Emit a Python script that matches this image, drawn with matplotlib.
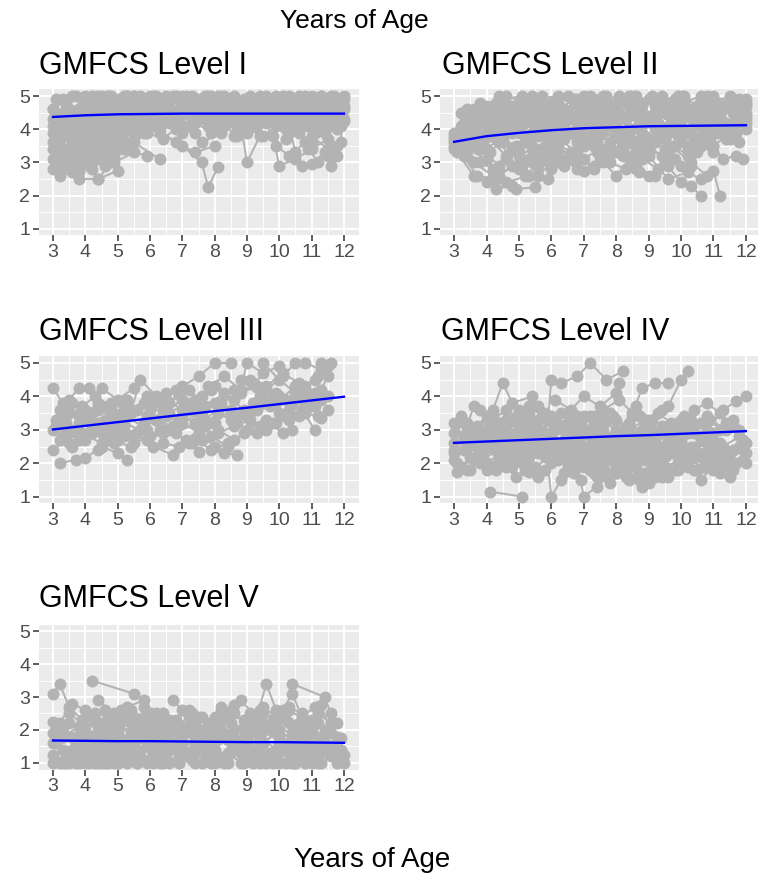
import numpy as np
import matplotlib
matplotlib.use("Agg")
import matplotlib.pyplot as plt

plt.rcParams['font.family'] = ['Liberation Sans', 'DejaVu Sans']

# panel titles
titles = ["GMFCS Level I", "GMFCS Level II", "GMFCS Level III",
          "GMFCS Level IV", "GMFCS Level V"]

# each subject: flat list age, score, age, score, ...
level_I = [
    [3.0, 4.1, 3.5, 4.6, 4.1, 4.9, 4.8, 5.0, 5.5, 5.0],
    [3.0, 3.4, 3.4, 3.9, 4.0, 4.3, 4.6, 4.8, 5.3, 5.0],
    [3.1, 2.8, 3.5, 3.1, 4.0, 3.5, 4.5, 3.9, 5.2, 4.4],
    [3.2, 2.6, 3.6, 2.7, 4.2, 3.0, 4.9, 3.6, 5.6, 4.1],
    [3.3, 3.0, 3.8, 2.5, 4.4, 2.5, 5.0, 2.75],
    [3.0, 4.6, 3.6, 5.0, 4.2, 5.0, 4.9, 4.8, 5.7, 5.0],
    [3.1, 3.7, 3.7, 4.2, 4.3, 4.6, 5.0, 4.5, 5.8, 4.9],
    [3.2, 3.3, 3.9, 3.6, 4.5, 3.2, 5.1, 3.8, 5.9, 4.3],
    [3.4, 4.4, 4.0, 4.8, 4.7, 5.0, 5.4, 4.7, 6.1, 5.0],
    [3.1, 4.9, 3.8, 4.5, 4.4, 4.2, 5.0, 4.6, 5.6, 4.3],
    [3.5, 2.9, 4.1, 3.2, 4.6, 2.9, 5.2, 3.4, 5.9, 3.2],
    [3.3, 3.8, 3.9, 4.0, 4.5, 4.4, 5.3, 4.0, 6.0, 4.5],
    [3.6, 3.5, 4.2, 3.8, 4.8, 4.1, 5.5, 3.6, 6.3, 3.1],
    [3.0, 3.1, 3.6, 3.6, 4.3, 4.0, 5.0, 4.3],
    [3.2, 4.3, 3.9, 4.7, 4.6, 4.4, 5.4, 4.9, 6.2, 4.6],
    [5.0, 4.2, 5.6, 4.6, 6.3, 4.9, 7.0, 5.0, 7.7, 4.8],
    [5.5, 3.8, 6.1, 4.1, 6.8, 3.6, 7.4, 3.3, 8.0, 3.5],
    [6.0, 4.5, 6.6, 4.8, 7.3, 5.0, 7.9, 4.6, 8.6, 5.0],
    [6.3, 3.9, 7.0, 3.5, 7.6, 3.0, 7.8, 2.25, 8.1, 2.85],
    [5.8, 4.7, 6.5, 4.3, 7.1, 4.6, 7.8, 4.1, 8.4, 4.4],
    [6.8, 4.0, 7.5, 4.4, 8.1, 4.8, 8.8, 4.5, 9.5, 4.9],
    [7.2, 4.9, 7.9, 5.0, 8.5, 4.6, 9.2, 4.8, 9.9, 5.0],
    [7.6, 3.6, 8.2, 3.9, 8.8, 4.2, 9.0, 3.0, 9.4, 3.8],
    [8.0, 4.3, 8.7, 4.0, 9.3, 4.5, 10.0, 4.2, 10.6, 4.7],
    [8.5, 4.8, 9.1, 4.4, 9.8, 4.7, 10.4, 4.3, 11.0, 4.8],
    [9.0, 3.9, 9.6, 4.2, 9.9, 3.5, 10.3, 3.2, 10.8, 3.6],
    [9.5, 4.6, 10.1, 5.0, 10.7, 4.8, 11.3, 5.0, 11.9, 4.8],
    [9.8, 3.8, 10.0, 2.9, 10.5, 3.1, 11.0, 3.4, 11.5, 3.7],
    [10.2, 4.5, 10.5, 3.3, 10.7, 2.9, 11.0, 2.95, 11.4, 3.3],
    [10.4, 4.0, 10.9, 4.4, 11.3, 4.1, 11.6, 2.9, 11.9, 3.6],
    [10.6, 4.9, 11.1, 4.6, 11.6, 5.0, 12.0, 5.0],
    [11.0, 3.8, 11.5, 3.4, 11.8, 3.2, 12.0, 4.25],
    [3.4, 4.8, 4.0, 5.0, 4.6, 4.7, 5.2, 5.0, 5.8, 4.6, 6.5, 5.0],
    [6.5, 4.9, 7.1, 4.7, 7.7, 5.0, 8.3, 4.3, 9.0, 4.7],
    [8.8, 4.1, 9.4, 4.9, 10.0, 4.6, 10.6, 5.0, 11.2, 4.5, 11.8, 4.9],
    [4.4, 4.3, 5.1, 4.8, 5.8, 4.4, 6.6, 4.7, 7.3, 4.2],
    [6.2, 5.0, 6.9, 4.6, 7.5, 4.9, 8.2, 5.0, 8.9, 4.9, 9.6, 4.4],
    [3.0, 2.8, 3.3, 3.2, 3.8, 3.6, 4.4, 3.1, 4.9, 3.5],
    [3.1, 3.6, 3.7, 3.3, 4.2, 2.8, 4.4, 2.5, 4.8, 3.0],
    [11.2, 4.3, 11.6, 4.7, 11.9, 4.2],
    [3.0, 4.6, 3.3, 4.9, 3.7, 5.0, 4.0, 4.7, 4.4, 5.0, 4.8, 4.9],
    [3.0, 3.9, 3.3, 4.3, 3.6, 4.1, 4.0, 4.5, 4.3, 4.8, 4.7, 5.0],
    [3.1, 3.0, 3.4, 3.4, 3.7, 3.1, 4.1, 3.7, 4.5, 4.1, 4.9, 4.0],
    [3.2, 2.7, 3.5, 3.0, 3.9, 3.3, 4.3, 3.5, 4.7, 3.3, 5.1, 3.7],
    [3.0, 3.6, 3.4, 4.0, 3.8, 3.8, 4.2, 4.2, 4.6, 4.5, 5.0, 4.9],
    [3.3, 4.5, 3.7, 4.2, 4.1, 4.4, 4.6, 4.1, 5.1, 4.6, 5.6, 4.8],
    [3.5, 3.8, 3.9, 3.5, 4.3, 3.9, 4.8, 3.7, 5.3, 4.0, 5.8, 3.9],
    [3.6, 3.0, 4.0, 3.1, 4.4, 3.5, 4.9, 3.2, 5.4, 3.6],
    [3.8, 2.7, 4.1, 2.9, 4.5, 3.3, 4.9, 3.0, 5.5, 3.3],
    [4.0, 4.6, 4.5, 5.0, 5.0, 4.8, 5.5, 5.0, 6.0, 4.8, 6.5, 4.6],
    [4.6, 4.0, 5.1, 4.3, 5.6, 4.1, 6.1, 4.4, 6.6, 4.2, 7.1, 4.5],
    [5.2, 4.9, 5.7, 4.6, 6.2, 4.8, 6.7, 5.0, 7.2, 4.7, 7.7, 4.5],
    [5.4, 3.5, 5.9, 3.9, 6.4, 3.7, 6.9, 4.1, 7.4, 3.9],
    [6.0, 4.1, 6.4, 4.5, 6.9, 4.2, 7.4, 4.6, 7.9, 4.3, 8.4, 4.7],
    [6.6, 4.5, 7.0, 4.8, 7.5, 4.5, 8.0, 4.8, 8.5, 4.5, 9.0, 4.9],
    [7.0, 3.9, 7.4, 4.2, 7.9, 3.9, 8.3, 4.1, 8.7, 3.8, 9.1, 4.2],
    [7.4, 4.6, 7.8, 4.4, 8.3, 4.8, 8.7, 4.4, 9.2, 4.6, 9.7, 4.3],
    [7.8, 5.0, 8.2, 4.7, 8.6, 4.9, 9.1, 5.0, 9.6, 4.7, 10.1, 4.9],
    [8.2, 4.2, 8.6, 4.5, 9.1, 4.2, 9.6, 4.5, 10.1, 4.1, 10.6, 4.4],
    [8.6, 3.8, 9.0, 4.0, 9.5, 3.8, 9.9, 4.1, 10.3, 3.9],
    [9.0, 4.6, 9.4, 4.3, 9.8, 4.6, 10.3, 4.4, 10.8, 4.7, 11.3, 4.4],
    [9.4, 5.0, 9.8, 4.8, 10.3, 5.0, 10.8, 4.8, 11.3, 5.0, 11.8, 4.7],
    [9.8, 4.3, 10.2, 4.0, 10.7, 4.2, 11.1, 3.9, 11.5, 4.1, 11.9, 4.4],
    [10.2, 3.7, 10.6, 3.9, 11.0, 3.6, 11.4, 3.9, 11.8, 4.0],
    [10.6, 4.6, 11.0, 4.2, 11.4, 4.5, 11.8, 4.3, 12.0, 4.6],
    [10.9, 3.4, 11.2, 3.0, 11.5, 3.2, 11.8, 3.5],
    [11.0, 5.0, 11.4, 4.8, 11.7, 5.0, 12.0, 4.9],
    [3.1, 4.3, 3.4, 4.6, 3.8, 4.4, 4.2, 4.7, 4.7, 4.4, 5.3, 4.7],
    [3.2, 3.5, 3.6, 3.8, 4.0, 4.0, 4.4, 3.8, 4.8, 4.2, 5.2, 4.1],
    [3.4, 3.2, 3.8, 2.9, 4.2, 3.2, 4.6, 3.6, 5.0, 3.4],
    [5.6, 4.4, 6.1, 4.7, 6.6, 4.4, 7.1, 4.8, 7.6, 4.6, 8.1, 5.0],
    [6.3, 4.8, 6.8, 4.5, 7.3, 4.8, 7.8, 4.4, 8.3, 4.6],
    [8.4, 4.9, 8.9, 4.6, 9.3, 4.9, 9.8, 4.5, 10.3, 4.8, 10.8, 5.0],
    [10.0, 4.5, 10.4, 4.7, 10.9, 4.5, 11.3, 4.7, 11.7, 4.5, 12.0, 4.7],
    [5.0, 4.5, 5.3, 4.3, 5.7, 4.6, 6.1, 4.3, 6.5, 4.6, 6.9, 4.3],
    [5.3, 5.0, 5.6, 4.8, 6.0, 5.0, 6.4, 4.9, 6.8, 5.0, 7.2, 4.8],
    [6.8, 4.3, 7.2, 4.1, 7.6, 4.4, 8.0, 4.2, 8.4, 4.4, 8.8, 4.2],
    [7.1, 5.0, 7.5, 4.7, 7.9, 4.9, 8.3, 5.0, 8.7, 4.8, 9.1, 4.6],
    [8.9, 4.3, 9.3, 4.1, 9.7, 4.3, 10.1, 4.5, 10.5, 4.2, 10.9, 4.1],
    [9.2, 4.8, 9.6, 5.0, 10.0, 4.8, 10.4, 4.6, 10.8, 4.9, 11.2, 4.7],
    [10.3, 4.3, 10.7, 4.5, 11.1, 4.2, 11.5, 4.4, 11.9, 4.1],
    [11.3, 4.6, 11.6, 4.4, 11.9, 4.6],
    [5.9, 4.2, 6.3, 4.0, 6.7, 4.3, 7.1, 4.1, 7.5, 4.3],
    [4.1, 4.2, 4.5, 4.5, 4.9, 4.3, 5.3, 4.5, 5.7, 4.2],
    [3.3, 2.9, 3.6, 3.3, 3.9, 3.0, 4.2, 3.4, 4.6, 3.8],
    [3.5, 4.1, 3.9, 4.3, 4.3, 4.1, 4.7, 4.6, 5.1, 4.5],
    [3.7, 3.7, 4.1, 3.9, 4.5, 3.7, 4.9, 4.2, 5.3, 4.3],
    [7.6, 4.7, 8.0, 4.5, 8.4, 4.3, 8.8, 4.6, 9.3, 4.4, 9.8, 4.7],
    [9.9, 4.4, 10.3, 4.6, 10.7, 4.3, 11.1, 4.6, 11.5, 4.3, 11.9, 4.5],
    [6.2, 4.6, 6.6, 4.3, 7.0, 4.6, 7.4, 4.4, 7.8, 4.6, 8.2, 4.4],
    [8.1, 4.6, 8.5, 4.3, 8.9, 4.5, 9.3, 4.3, 9.7, 4.5, 10.2, 4.3],
    [4.8, 4.6, 5.2, 4.4, 5.6, 4.7, 6.0, 4.5, 6.4, 4.3],
    [3.0, 4.3, 3.2, 4.0, 3.5, 4.4, 3.8, 4.6, 4.2, 4.4],
    [10.5, 4.9, 10.9, 4.6, 11.3, 4.8, 11.7, 4.6, 12.0, 4.3],
]

level_II = [
    [3.0, 3.7, 3.5, 4.3, 4.1, 4.6, 4.6, 5.0, 5.2, 4.8],
    [3.0, 3.5, 3.4, 3.2, 3.9, 3.6, 4.5, 4.0, 5.1, 4.4],
    [3.1, 3.9, 3.6, 4.4, 4.2, 4.0, 4.8, 4.6, 5.4, 5.0],
    [3.2, 3.3, 3.7, 2.6, 4.3, 2.5, 4.9, 2.2, 5.5, 2.25],
    [3.3, 3.8, 3.8, 3.4, 4.4, 2.9, 5.0, 3.3, 5.6, 2.8],
    [3.4, 4.6, 3.9, 4.2, 4.5, 4.9, 5.1, 5.0, 5.8, 4.6],
    [3.1, 3.3, 3.6, 2.6, 4.0, 2.4, 4.3, 2.2, 4.8, 2.3],
    [3.5, 4.0, 4.0, 3.8, 4.6, 3.2, 5.2, 3.6, 5.9, 4.1],
    [3.0, 3.6, 3.6, 3.0, 4.2, 2.6, 4.9, 2.9, 5.6, 2.6, 6.0, 3.0],
    [3.2, 4.5, 3.8, 4.8, 4.4, 4.2, 5.0, 4.5, 5.7, 4.2],
    [4.0, 3.9, 4.7, 4.3, 5.3, 3.8, 6.0, 4.4, 6.7, 4.7],
    [4.3, 4.8, 4.9, 4.4, 5.5, 4.9, 6.2, 5.0, 6.9, 4.6],
    [4.8, 3.4, 5.4, 3.0, 6.1, 3.5, 6.8, 3.0, 7.5, 3.4],
    [5.0, 4.0, 5.6, 4.5, 6.3, 4.2, 7.0, 4.8, 7.7, 5.0],
    [5.3, 3.7, 6.0, 3.3, 6.6, 3.9, 7.3, 3.5, 8.0, 4.0],
    [5.8, 4.7, 6.5, 5.0, 7.1, 4.4, 7.8, 4.7, 8.5, 5.0],
    [6.2, 3.2, 6.8, 2.8, 7.0, 2.75, 7.5, 3.1, 8.2, 3.6],
    [6.5, 4.3, 7.2, 4.6, 7.9, 4.1, 8.6, 4.5, 9.3, 4.0],
    [6.9, 3.6, 7.6, 4.0, 8.2, 3.4, 8.9, 3.8, 9.6, 3.3],
    [7.3, 4.9, 8.0, 4.6, 8.6, 5.0, 9.2, 4.7, 9.9, 5.0],
    [7.6, 3.0, 8.0, 2.6, 8.5, 3.2, 9.0, 2.6, 9.6, 2.9],
    [8.0, 4.4, 8.7, 4.0, 9.3, 4.5, 10.0, 4.1, 10.7, 4.6],
    [8.4, 3.8, 9.0, 3.2, 9.6, 2.5, 10.2, 2.7, 10.6, 2.5],
    [8.8, 4.7, 9.4, 5.0, 10.1, 4.6, 10.8, 5.0, 11.4, 4.7],
    [9.0, 3.6, 9.5, 3.0, 10.0, 2.4, 10.3, 2.3, 10.6, 2.0],
    [9.3, 4.2, 9.9, 3.8, 10.5, 4.3, 11.1, 3.9, 11.7, 4.4],
    [9.7, 3.5, 10.3, 3.0, 10.8, 2.6, 11.0, 2.75, 11.2, 2.0],
    [10.0, 4.5, 10.6, 4.9, 11.2, 4.5, 11.8, 4.9, 12.0, 4.8],
    [10.4, 3.4, 10.9, 3.6, 11.3, 3.1, 11.7, 3.2, 11.9, 3.1],
    [10.8, 4.2, 11.3, 4.6, 11.7, 4.3, 12.0, 4.4],
    [3.4, 3.4, 4.0, 3.1, 4.6, 2.4, 5.3, 2.6, 5.9, 2.5],
    [4.4, 3.6, 5.0, 2.8, 5.5, 3.4, 6.1, 3.8, 6.8, 3.3],
    [5.6, 4.1, 6.3, 4.6, 6.9, 4.0, 7.6, 4.4, 8.3, 3.9],
    [7.0, 5.0, 7.7, 4.3, 8.3, 4.8, 9.0, 4.4, 9.7, 4.8],
    [8.2, 3.7, 8.9, 4.2, 9.5, 3.7, 10.2, 3.4, 10.9, 3.8],
    [9.8, 4.0, 10.4, 3.6, 11.0, 4.1, 11.5, 3.7, 11.9, 4.2],
    [11.0, 4.8, 11.5, 5.0, 11.9, 4.6],
    [3.0, 3.9, 3.3, 4.2, 3.6, 4.6, 4.2, 4.4, 4.8, 3.9],
    [6.0, 3.6, 6.6, 3.2, 7.3, 2.9, 8.0, 3.3, 8.7, 2.7],
    [8.6, 2.8, 9.2, 2.6, 9.6, 3.0, 10.0, 2.9],
    [3.0, 3.4, 3.3, 3.7, 3.7, 3.9, 4.1, 4.2, 4.5, 4.4, 4.9, 4.1],
    [3.1, 3.6, 3.5, 3.9, 3.9, 4.3, 4.3, 4.6, 4.7, 4.3, 5.2, 4.7],
    [3.2, 4.1, 3.6, 4.4, 4.0, 4.7, 4.4, 5.0, 4.9, 4.7, 5.4, 4.4],
    [3.3, 3.2, 3.7, 3.5, 4.1, 3.3, 4.5, 3.7, 4.9, 3.5, 5.4, 3.9],
    [3.6, 3.6, 4.0, 3.4, 4.4, 3.7, 4.8, 3.4, 5.3, 3.1, 5.8, 3.5],
    [3.8, 3.0, 4.2, 2.8, 4.6, 3.1, 5.1, 2.9, 5.6, 3.2, 6.1, 3.4],
    [4.2, 4.0, 4.6, 4.3, 5.1, 4.1, 5.6, 4.4, 6.1, 4.2, 6.6, 4.5],
    [4.6, 4.6, 5.0, 4.8, 5.5, 4.5, 6.0, 4.8, 6.5, 4.4, 7.0, 4.7],
    [5.0, 3.5, 5.4, 3.8, 5.9, 3.6, 6.4, 4.0, 6.9, 3.8, 7.4, 4.2],
    [5.4, 4.2, 5.8, 3.9, 6.3, 4.3, 6.8, 4.1, 7.3, 4.4, 7.8, 4.2],
    [5.8, 3.1, 6.2, 3.5, 6.7, 3.3, 7.2, 3.7, 7.7, 3.4, 8.2, 3.2],
    [6.2, 4.8, 6.6, 4.5, 7.1, 4.9, 7.6, 4.6, 8.1, 4.9, 8.6, 4.6],
    [6.6, 3.9, 7.0, 4.2, 7.5, 3.9, 8.0, 4.3, 8.5, 4.0, 9.0, 4.3],
    [7.0, 4.5, 7.4, 4.8, 7.9, 4.4, 8.4, 4.7, 8.9, 4.4, 9.4, 4.7],
    [7.4, 3.6, 7.8, 3.3, 8.3, 3.7, 8.8, 3.4, 9.3, 3.7, 9.8, 3.5],
    [7.8, 4.1, 8.2, 4.4, 8.7, 4.2, 9.2, 4.5, 9.7, 4.2, 10.2, 4.4],
    [8.2, 4.9, 8.6, 4.6, 9.1, 4.9, 9.6, 4.6, 10.1, 4.8, 10.6, 5.0],
    [8.6, 3.4, 9.0, 3.7, 9.5, 3.4, 10.0, 3.7, 10.5, 3.3, 11.0, 3.5],
    [9.0, 4.3, 9.4, 4.0, 9.9, 4.4, 10.4, 4.1, 10.9, 4.4, 11.4, 4.2],
    [9.4, 3.9, 9.8, 4.2, 10.3, 3.9, 10.8, 4.3, 11.3, 4.0, 11.8, 4.3],
    [9.8, 4.7, 10.2, 4.4, 10.7, 4.7, 11.2, 4.4, 11.6, 4.7, 12.0, 4.5],
    [10.2, 3.5, 10.6, 3.8, 11.0, 3.5, 11.4, 3.8, 11.8, 3.6],
    [10.6, 4.1, 11.0, 4.4, 11.4, 4.1, 11.8, 4.5, 12.0, 4.2],
    [11.0, 3.9, 11.4, 3.7, 11.7, 3.9, 12.0, 4.0],
    [4.4, 2.6, 4.8, 2.9, 5.2, 2.6, 5.6, 3.0, 6.0, 2.8, 6.5, 3.1],
    [6.4, 2.9, 6.8, 3.2, 7.3, 2.8, 7.8, 3.0, 8.3, 2.8, 8.8, 3.1],
    [8.4, 2.9, 8.8, 3.1, 9.3, 2.8, 9.8, 3.1, 10.3, 2.9],
    [5.2, 4.9, 5.7, 5.0, 6.2, 4.6, 6.7, 4.9, 7.2, 5.0, 7.7, 4.8],
    [7.6, 4.9, 8.1, 5.0, 8.6, 4.7, 9.1, 5.0, 9.6, 4.8, 10.1, 5.0],
    [10.0, 5.0, 10.5, 4.7, 11.0, 5.0, 11.5, 4.8, 12.0, 4.9],
    [3.4, 4.0, 3.8, 4.2, 4.2, 3.9, 4.6, 4.2, 5.0, 3.9, 5.5, 4.2],
    [6.0, 3.7, 6.4, 3.9, 6.8, 3.6, 7.3, 3.9, 7.8, 3.6, 8.3, 3.9],
    [4.0, 4.6, 4.4, 4.4, 4.8, 4.7, 5.2, 4.5, 5.6, 4.8, 6.0, 4.6],
    [4.8, 4.2, 5.2, 4.4, 5.6, 4.1, 6.0, 4.3, 6.4, 4.1, 6.8, 4.4],
    [5.6, 3.8, 6.0, 4.0, 6.4, 3.7, 6.8, 4.0, 7.2, 3.8, 7.6, 4.1],
    [6.4, 4.6, 6.8, 4.8, 7.2, 4.6, 7.6, 4.4, 8.0, 4.7, 8.4, 4.4],
    [7.2, 4.2, 7.6, 4.0, 8.0, 4.2, 8.4, 3.9, 8.8, 4.2, 9.2, 4.0],
    [8.0, 3.8, 8.4, 3.6, 8.8, 3.9, 9.2, 3.6, 9.6, 3.9, 10.0, 3.6],
    [8.8, 4.5, 9.2, 4.3, 9.6, 4.5, 10.0, 4.3, 10.4, 4.5, 10.8, 4.2],
    [9.6, 4.1, 10.0, 3.9, 10.4, 4.2, 10.8, 4.0, 11.2, 4.2, 11.6, 4.0],
    [10.4, 4.6, 10.8, 4.4, 11.2, 4.7, 11.6, 4.5, 12.0, 4.7],
    [11.2, 4.3, 11.5, 4.1, 11.8, 4.4, 12.0, 4.3],
    [5.0, 3.2, 5.4, 3.4, 5.8, 3.2, 6.2, 3.0, 6.6, 3.3, 7.0, 3.1],
    [7.0, 3.5, 7.4, 3.3, 7.8, 3.6, 8.2, 3.3, 8.6, 3.6, 9.0, 3.3],
    [9.0, 3.4, 9.4, 3.2, 9.8, 3.5, 10.2, 3.2, 10.6, 3.5, 11.0, 3.3],
    [3.0, 3.8, 3.2, 3.5, 3.5, 3.7, 3.8, 3.5, 4.1, 3.8, 4.5, 3.6],
    [3.5, 4.4, 3.8, 4.6, 4.2, 4.4, 4.6, 4.7, 5.0, 4.4, 5.4, 4.6],
    [6.8, 4.9, 7.2, 4.7, 7.6, 5.0, 8.0, 4.8, 8.4, 5.0, 8.8, 4.8],
    [9.0, 4.9, 9.4, 4.7, 9.8, 4.9, 10.2, 4.6, 10.6, 4.8, 11.0, 4.6],
    [5.9, 4.4, 6.3, 4.6, 6.7, 4.3, 7.1, 4.5, 7.5, 4.3],
    [8.3, 4.3, 8.7, 4.6, 9.1, 4.3, 9.5, 4.5, 9.9, 4.3],
]

level_III = [
    [3.0, 4.25, 3.3, 3.8, 3.8, 3.4, 4.4, 3.6, 5.0, 3.3],
    [3.0, 2.4, 3.4, 2.7, 3.9, 2.9, 4.5, 2.6, 5.1, 3.0],
    [3.2, 2.0, 3.7, 2.1, 4.0, 2.15, 4.5, 2.5, 5.0, 2.3, 5.3, 2.1],
    [3.1, 3.3, 3.6, 3.0, 4.1, 3.3, 4.7, 2.9, 5.3, 3.4, 5.9, 3.0],
    [3.2, 3.6, 3.5, 3.9, 3.8, 4.25, 4.1, 4.25, 4.5, 3.7, 4.9, 3.5],
    [3.3, 2.8, 3.8, 3.2, 4.3, 3.0, 4.8, 2.7, 5.4, 2.5],
    [3.4, 3.4, 3.9, 3.7, 4.3, 4.0, 4.5, 4.25, 5.0, 3.9, 5.5, 4.25],
    [3.5, 2.6, 4.0, 2.8, 4.6, 3.1, 5.2, 2.8, 5.8, 3.2],
    [4.2, 3.5, 4.8, 3.8, 5.4, 3.5, 5.7, 4.5, 6.2, 4.0, 6.8, 4.2],
    [5.0, 3.1, 5.6, 2.9, 6.1, 2.5, 6.7, 2.25, 7.2, 2.6, 7.5, 2.35],
    [5.3, 3.7, 5.9, 3.4, 6.5, 3.9, 7.0, 3.6, 7.6, 4.0],
    [5.5, 2.6, 6.0, 2.8, 6.6, 3.0, 7.1, 2.7, 7.7, 3.1],
    [6.0, 3.6, 6.5, 4.1, 7.0, 4.3, 7.5, 4.6, 8.0, 5.0, 8.5, 5.0],
    [6.3, 3.0, 6.9, 3.3, 7.5, 2.9, 8.0, 2.5, 8.3, 2.3, 8.7, 2.25],
    [6.6, 3.8, 7.2, 4.2, 7.7, 3.7, 8.3, 4.1, 8.9, 3.6],
    [7.0, 3.4, 7.6, 3.1, 8.1, 3.5, 8.7, 3.2, 9.3, 3.6],
    [7.3, 2.6, 7.9, 2.8, 8.4, 2.5, 8.9, 2.9, 9.4, 3.1],
    [7.8, 4.3, 8.3, 4.6, 8.8, 4.2, 9.0, 5.0, 9.5, 4.7, 10.0, 4.9],
    [8.2, 3.8, 8.8, 4.1, 9.3, 4.3, 9.5, 5.0, 10.0, 4.5, 10.5, 4.1],
    [8.5, 3.3, 9.0, 3.0, 9.6, 3.3, 10.1, 2.9, 10.4, 3.0],
    [8.8, 4.5, 9.4, 4.0, 9.9, 3.8, 10.5, 4.3, 11.0, 4.0],
    [9.1, 3.5, 9.7, 3.7, 10.2, 3.4, 10.7, 3.6, 11.1, 3.0],
    [9.6, 4.2, 10.1, 4.6, 10.5, 5.0, 10.8, 5.0, 11.3, 4.8],
    [9.9, 3.2, 10.3, 3.5, 10.8, 3.8, 11.1, 4.1, 11.3, 3.35, 11.5, 3.6],
    [10.2, 3.9, 10.7, 4.2, 11.1, 4.5, 11.3, 5.0, 11.6, 5.0],
    [10.6, 3.4, 11.0, 3.7, 11.3, 4.2, 11.5, 4.6],
    [4.6, 3.3, 5.2, 3.6, 5.8, 3.8, 6.4, 3.5, 7.0, 3.9],
    [3.1, 3.1, 3.5, 3.5, 4.0, 3.6, 4.4, 3.2, 4.9, 2.8],
    [7.4, 3.9, 8.0, 4.3, 8.6, 3.9, 9.2, 4.4, 9.8, 4.0],
    [6.2, 3.3, 6.8, 2.9, 7.4, 3.2, 8.1, 3.0, 8.6, 2.7],
    [3.0, 3.0, 3.4, 3.2, 3.8, 2.9, 4.2, 3.1, 4.6, 2.8],
    [3.2, 2.7, 3.6, 2.5, 4.0, 2.7, 4.5, 2.9, 5.0, 2.7],
    [3.6, 3.8, 4.0, 3.5, 4.4, 3.8, 4.8, 3.6, 5.3, 3.9],
    [4.8, 2.9, 5.2, 3.2, 5.7, 3.0, 6.2, 3.3, 6.7, 3.1],
    [5.6, 3.6, 6.1, 3.8, 6.6, 3.5, 7.1, 3.8, 7.6, 3.5],
    [6.4, 2.6, 6.9, 2.5, 7.4, 2.7, 7.9, 2.4, 8.4, 2.6],
    [7.2, 3.6, 7.7, 3.3, 8.2, 3.7, 8.7, 3.4, 9.2, 3.8],
    [8.0, 3.2, 8.5, 3.6, 9.0, 3.4, 9.5, 3.8, 10.0, 3.5],
    [8.6, 4.2, 9.1, 4.5, 9.6, 4.3, 10.1, 4.7, 10.6, 4.4],
    [9.3, 2.9, 9.8, 3.2, 10.3, 3.3, 10.8, 3.5, 11.2, 3.4],
    [10.0, 4.0, 10.4, 3.8, 10.8, 4.3, 11.2, 4.6, 11.5, 4.9],
    [5.9, 4.0, 6.4, 3.7, 6.9, 4.1, 7.4, 3.8, 7.9, 4.2],
    [3.4, 3.0, 3.8, 2.7, 4.2, 2.9, 4.7, 3.2, 5.2, 3.1],
    [4.4, 2.4, 4.9, 2.6, 5.4, 2.8, 5.9, 2.7, 6.4, 2.9],
    [6.5, 3.4, 7.0, 3.2, 7.5, 3.5, 8.0, 3.8, 8.5, 3.5],
    [7.6, 2.7, 8.1, 2.9, 8.6, 3.1, 9.1, 3.3, 9.6, 3.0],
    [9.4, 3.9, 9.9, 4.1, 10.4, 3.8, 10.9, 4.1, 11.3, 3.9],
    [10.3, 3.6, 10.7, 3.9, 11.1, 3.7, 11.5, 4.0],
]

level_IV = [
    [3.0, 3.2, 3.3, 2.8, 3.6, 3.7, 4.0, 3.3, 4.5, 3.1, 5.0, 3.6],
    [3.0, 2.1, 3.4, 1.8, 3.8, 2.2, 4.2, 1.9, 4.7, 2.3],
    [3.0, 2.6, 3.5, 2.9, 4.0, 2.5, 4.5, 2.8, 5.1, 2.4],
    [3.1, 1.75, 3.5, 2.2, 3.9, 2.5, 4.4, 2.1, 4.9, 1.6],
    [3.2, 3.4, 3.7, 3.1, 4.2, 3.6, 4.5, 4.4, 4.8, 3.8, 5.4, 4.0],
    [3.3, 2.4, 3.8, 2.0, 4.3, 2.4, 4.8, 2.0, 5.3, 1.75, 5.6, 1.6],
    [4.1, 1.15, 5.1, 1.0],
    [3.4, 3.0, 3.9, 2.7, 4.4, 3.2, 5.0, 2.9, 5.6, 3.3, 6.1, 3.0],
    [4.6, 2.6, 5.2, 3.4, 5.7, 3.0, 6.3, 3.5, 6.9, 3.1],
    [5.0, 2.2, 5.5, 2.6, 6.0, 2.0, 6.5, 2.4, 7.0, 1.9],
    [5.3, 3.7, 5.9, 3.3, 6.0, 4.5, 6.3, 4.4, 6.8, 4.6, 7.2, 5.0, 7.7, 4.5, 8.2, 4.75],
    [5.8, 2.8, 6.0, 1.0, 6.3, 1.5, 6.8, 1.9, 7.3, 2.3],
    [6.1, 3.9, 6.6, 3.6, 7.0, 4.0, 7.5, 3.7, 8.0, 4.1, 8.1, 4.4],
    [6.4, 2.2, 6.9, 1.5, 7.0, 1.0, 7.4, 1.3, 7.9, 1.7, 8.4, 1.5],
    [6.7, 3.2, 7.2, 2.8, 7.7, 3.3, 8.2, 2.9, 8.7, 3.4],
    [7.0, 2.4, 7.5, 2.0, 8.0, 2.6, 8.5, 2.2, 9.0, 2.7],
    [7.3, 1.7, 7.8, 2.1, 8.3, 1.6, 8.8, 1.3, 9.2, 1.6],
    [7.6, 3.6, 8.1, 3.9, 8.5, 3.5, 8.8, 4.25, 9.2, 4.4, 9.6, 4.4],
    [7.9, 2.8, 8.4, 3.2, 8.9, 2.8, 9.4, 3.1, 9.9, 2.6],
    [8.2, 2.0, 8.7, 2.4, 9.2, 2.0, 9.7, 2.3, 10.2, 1.9],
    [8.6, 3.7, 9.1, 3.3, 9.6, 3.7, 10.0, 4.5, 10.2, 4.75],
    [9.0, 2.5, 9.5, 2.2, 10.0, 2.6, 10.5, 2.3, 11.0, 2.7],
    [9.4, 1.6, 9.9, 2.0, 10.4, 1.8, 10.6, 1.5, 11.0, 1.9],
    [9.8, 3.0, 10.3, 3.3, 10.8, 3.0, 11.3, 3.6, 11.7, 3.85, 12.0, 4.0],
    [10.1, 2.3, 10.6, 2.7, 11.1, 2.4, 11.5, 2.1, 11.9, 2.4],
    [10.4, 3.6, 10.8, 3.8, 11.2, 3.5, 11.6, 3.1, 11.9, 2.7],
    [10.7, 1.9, 11.2, 2.2, 11.5, 1.6, 11.7, 2.0],
    [4.0, 2.0, 4.6, 2.4, 5.2, 2.1, 5.8, 2.5, 6.4, 2.7],
    [5.5, 2.7, 6.2, 2.3, 6.8, 2.7, 7.4, 2.5, 8.0, 2.2],
    [7.1, 3.0, 7.6, 2.6, 8.1, 1.9, 8.6, 1.6, 9.0, 1.4],
    [8.3, 2.6, 8.9, 2.1, 9.3, 1.8, 9.8, 2.4, 10.3, 2.2],
    [3.6, 2.7, 4.1, 3.0, 4.7, 2.7, 5.3, 3.1, 5.9, 2.6],
    [3.0, 2.9, 3.3, 3.2, 3.7, 2.9, 4.1, 3.2, 4.5, 2.9, 5.0, 3.2],
    [3.0, 2.3, 3.4, 2.5, 3.8, 2.3, 4.2, 2.6, 4.6, 2.2, 5.0, 2.5],
    [3.1, 2.0, 3.5, 1.8, 3.9, 2.1, 4.3, 1.8, 4.7, 2.0, 5.2, 1.8],
    [3.2, 3.3, 3.6, 3.0, 4.0, 3.4, 4.4, 3.0, 4.8, 3.3, 5.3, 3.5],
    [3.5, 2.6, 3.9, 2.3, 4.3, 2.7, 4.7, 2.5, 5.2, 2.8, 5.7, 2.3],
    [4.2, 3.4, 4.6, 3.1, 5.0, 3.5, 5.5, 3.2, 6.0, 3.4, 6.5, 3.2],
    [4.6, 1.9, 5.0, 2.1, 5.5, 1.9, 6.0, 2.2, 6.5, 1.9, 7.0, 2.2],
    [5.0, 2.7, 5.4, 2.4, 5.9, 2.8, 6.4, 2.5, 6.9, 2.8, 7.4, 2.6],
    [5.4, 3.2, 5.8, 3.5, 6.3, 3.1, 6.8, 3.4, 7.3, 3.2, 7.8, 3.5],
    [5.8, 1.8, 6.2, 2.1, 6.7, 1.7, 7.2, 2.0, 7.7, 1.7, 8.2, 1.9],
    [6.2, 2.6, 6.6, 2.9, 7.1, 2.5, 7.6, 2.8, 8.1, 2.5, 8.6, 2.8],
    [6.6, 2.1, 7.0, 2.4, 7.5, 2.1, 8.0, 2.4, 8.5, 2.0, 9.0, 2.3],
    [7.0, 3.4, 7.4, 3.1, 7.9, 3.4, 8.4, 3.0, 8.9, 3.3, 9.4, 3.6],
    [7.4, 1.6, 7.8, 1.4, 8.2, 1.8, 8.7, 1.5, 9.1, 1.9, 9.6, 1.7],
    [7.8, 2.4, 8.2, 2.2, 8.7, 2.6, 9.2, 2.3, 9.7, 2.6, 10.2, 2.4],
    [8.2, 3.0, 8.6, 2.7, 9.1, 3.0, 9.6, 2.7, 10.1, 3.1, 10.6, 2.8],
    [8.6, 1.9, 9.0, 2.2, 9.5, 1.9, 10.0, 2.1, 10.5, 1.8, 11.0, 2.1],
    [9.0, 3.3, 9.4, 2.9, 9.9, 3.2, 10.4, 2.9, 10.9, 3.3, 11.4, 3.0],
    [9.4, 2.5, 9.8, 2.8, 10.3, 2.5, 10.8, 2.8, 11.3, 2.5, 11.8, 2.8],
    [9.8, 1.8, 10.2, 2.1, 10.7, 1.9, 11.2, 1.7, 11.6, 1.9, 12.0, 2.0],
    [10.2, 2.9, 10.6, 3.2, 11.0, 2.9, 11.4, 3.2, 11.8, 3.0],
    [10.6, 2.2, 11.0, 2.5, 11.4, 2.2, 11.8, 2.5, 12.0, 2.3],
    [4.8, 2.3, 5.3, 2.6, 5.8, 2.2, 6.3, 2.5, 6.8, 2.3, 7.3, 2.7],
    [6.0, 2.9, 6.5, 3.2, 7.0, 2.9, 7.5, 3.3, 8.0, 3.0],
    [8.0, 1.7, 8.4, 2.0, 8.9, 1.7, 9.4, 2.1, 9.9, 1.8],
    [3.8, 3.6, 4.2, 3.3, 4.6, 3.6, 5.1, 3.3, 5.6, 3.7],
    [3.0, 2.4, 3.3, 2.7, 3.7, 2.5, 4.1, 2.8, 4.5, 2.6, 4.9, 2.9],
    [3.2, 1.9, 3.6, 2.1, 4.0, 1.8, 4.4, 2.2, 4.8, 1.9, 5.3, 2.2],
    [3.4, 3.2, 3.8, 3.0, 4.2, 2.8, 4.6, 3.3, 5.0, 3.0, 5.5, 2.9],
    [4.4, 2.4, 4.8, 2.7, 5.2, 2.4, 5.6, 2.6, 6.0, 2.3, 6.4, 2.6],
    [5.2, 2.0, 5.6, 2.3, 6.0, 2.6, 6.4, 2.2, 6.8, 2.5, 7.2, 2.2],
    [5.6, 3.0, 6.0, 2.8, 6.4, 3.0, 6.8, 2.7, 7.2, 3.0, 7.6, 2.8],
    [6.4, 1.7, 6.8, 2.1, 7.2, 1.8, 7.6, 2.2, 8.0, 1.9, 8.4, 2.3],
    [6.8, 3.1, 7.2, 3.4, 7.6, 3.0, 8.0, 3.3, 8.4, 3.1, 8.8, 3.0],
    [7.2, 2.3, 7.6, 2.5, 8.0, 2.2, 8.4, 2.5, 8.8, 2.2, 9.2, 2.5],
    [7.6, 1.9, 8.0, 1.7, 8.4, 1.9, 8.8, 1.6, 9.2, 1.9, 9.6, 1.6],
    [8.0, 2.9, 8.4, 2.7, 8.8, 3.0, 9.2, 2.8, 9.6, 3.1, 10.0, 2.8],
    [8.8, 2.4, 9.2, 2.7, 9.6, 2.4, 10.0, 2.7, 10.4, 2.4, 10.8, 2.6],
    [9.2, 2.1, 9.6, 2.3, 10.0, 1.9, 10.4, 2.2, 10.8, 2.0, 11.2, 2.3],
    [9.6, 3.0, 10.0, 3.3, 10.4, 3.1, 10.8, 3.4, 11.2, 3.0, 11.6, 3.3],
    [10.4, 2.5, 10.8, 2.3, 11.2, 2.6, 11.6, 2.4, 12.0, 2.6],
    [11.0, 1.8, 11.3, 2.0, 11.6, 1.8, 11.9, 2.1],
    [4.0, 2.9, 4.4, 2.6, 4.8, 2.8, 5.2, 2.6, 5.6, 2.9],
    [5.7, 3.4, 6.1, 3.2, 6.5, 3.5, 6.9, 3.2, 7.3, 3.4],
    [8.5, 3.4, 8.9, 3.2, 9.3, 3.5, 9.7, 3.2, 10.1, 3.4],
    [6.6, 2.7, 7.0, 2.5, 7.4, 2.8, 7.8, 2.6, 8.2, 2.8],
]

level_V = [
    [3.0, 3.1, 3.2, 3.4, 3.5, 2.7, 3.9, 2.3, 4.4, 2.0],
    [3.0, 2.25, 3.3, 1.9, 3.7, 1.6, 4.2, 1.3, 4.7, 1.0],
    [3.1, 1.6, 3.4, 1.25, 3.8, 1.0, 4.3, 1.0, 4.8, 1.2, 5.3, 1.0],
    [3.0, 1.25, 3.5, 1.0, 4.0, 1.0, 4.5, 1.25, 5.0, 1.0],
    [3.2, 2.2, 3.6, 2.8, 4.0, 2.6, 4.5, 2.2, 5.0, 1.9, 5.5, 2.1],
    [3.3, 1.8, 3.8, 2.1, 4.2, 1.8, 4.7, 1.5, 5.2, 1.7],
    [4.2, 3.5, 5.5, 3.1],
    [3.6, 1.4, 4.1, 1.6, 4.6, 1.9, 5.1, 1.4, 5.6, 1.2, 6.1, 1.0],
    [4.4, 2.9, 4.9, 2.5, 5.3, 2.7, 5.8, 2.9, 6.0, 2.5, 6.4, 2.1],
    [4.9, 1.2, 5.4, 1.6, 5.9, 2.0, 6.4, 1.7, 6.9, 1.3],
    [5.2, 2.3, 5.7, 2.0, 6.2, 2.3, 6.7, 2.0, 7.2, 2.4],
    [5.6, 1.0, 6.1, 1.3, 6.6, 1.0, 7.1, 1.2, 7.6, 1.0],
    [6.0, 1.6, 6.5, 1.9, 7.0, 1.5, 7.5, 1.8, 8.0, 1.4],
    [6.7, 2.9, 7.0, 2.6, 7.3, 2.5, 7.8, 2.2, 8.2, 2.6, 8.6, 2.75],
    [6.9, 1.0, 7.4, 1.3, 7.9, 1.0, 8.4, 1.25, 8.9, 1.0],
    [7.2, 2.1, 7.7, 1.7, 8.2, 2.0, 8.7, 1.7, 9.2, 2.1],
    [7.6, 1.5, 8.1, 1.2, 8.6, 1.5, 9.1, 1.3, 9.6, 1.0],
    [8.0, 2.4, 8.5, 2.2, 8.8, 2.9, 9.3, 2.4, 9.6, 3.4, 9.9, 2.6],
    [8.4, 1.8, 8.9, 1.5, 9.4, 1.8, 9.9, 1.4, 10.4, 1.7],
    [8.8, 1.0, 9.3, 1.2, 9.8, 1.0, 10.3, 1.3, 10.8, 1.0],
    [9.2, 2.3, 9.7, 2.0, 10.1, 2.6, 10.4, 3.1, 10.7, 2.4, 11.1, 2.7],
    [9.5, 1.6, 10.0, 2.0, 10.5, 1.6, 11.0, 1.9, 11.4, 1.5],
    [10.0, 1.0, 10.5, 1.2, 11.0, 1.0, 11.5, 1.3, 11.8, 1.0],
    [10.4, 3.4, 11.4, 3.0, 11.6, 2.5],
    [10.6, 2.2, 11.0, 2.0, 11.3, 2.75, 11.6, 1.9, 11.9, 1.75, 12.0, 1.25],
    [9.9, 2.5, 10.3, 2.2, 10.7, 1.8, 11.2, 1.4, 11.6, 1.2],
    [3.4, 1.0, 3.9, 1.3, 4.4, 1.6, 4.9, 2.3, 5.4, 1.9, 5.9, 1.5],
    [6.3, 1.0, 6.8, 1.4, 7.3, 1.9, 7.8, 1.6, 8.3, 1.0, 8.8, 1.3],
    [9.0, 1.6, 9.5, 2.2, 10.0, 1.8, 10.5, 1.0, 11.0, 1.2],
    [4.1, 1.0, 4.6, 1.0, 5.1, 1.2, 5.6, 1.0, 6.1, 1.3],
    [3.0, 1.6, 3.3, 1.8, 3.7, 1.5, 4.1, 1.8, 4.5, 1.6, 5.0, 1.8],
    [3.1, 2.0, 3.5, 2.2, 3.9, 1.9, 4.3, 2.3, 4.7, 2.0, 5.1, 2.3],
    [3.2, 1.0, 3.6, 1.2, 4.0, 1.3, 4.4, 1.0, 4.8, 1.4, 5.3, 1.2],
    [3.5, 2.5, 3.9, 2.2, 4.3, 2.5, 4.7, 2.4, 5.1, 2.6, 5.6, 2.3],
    [4.0, 1.4, 4.4, 1.3, 4.8, 1.7, 5.3, 1.5, 5.8, 1.8, 6.3, 1.6],
    [4.5, 1.0, 4.9, 1.0, 5.4, 1.3, 5.9, 1.0, 6.4, 1.2, 6.9, 1.0],
    [5.0, 2.1, 5.4, 2.4, 5.9, 2.2, 6.4, 2.4, 6.9, 2.1, 7.4, 2.3],
    [5.5, 1.5, 5.9, 1.7, 6.4, 1.4, 6.9, 1.7, 7.4, 1.5, 7.9, 1.8],
    [6.0, 1.1, 6.4, 1.0, 6.9, 1.2, 7.4, 1.0, 7.9, 1.2, 8.4, 1.0],
    [6.5, 2.2, 6.9, 1.9, 7.4, 2.2, 7.9, 2.0, 8.4, 2.3, 8.9, 2.0],
    [7.0, 1.3, 7.4, 1.6, 7.9, 1.4, 8.4, 1.7, 8.9, 1.4, 9.4, 1.6],
    [7.5, 2.4, 7.9, 2.2, 8.4, 2.5, 8.9, 2.3, 9.4, 2.6, 9.9, 2.3],
    [8.0, 1.0, 8.4, 1.3, 8.9, 1.2, 9.4, 1.0, 9.9, 1.2, 10.4, 1.0],
    [8.5, 1.9, 8.9, 2.1, 9.4, 1.8, 9.9, 2.1, 10.4, 1.9, 10.9, 2.2],
    [9.0, 1.3, 9.4, 1.5, 9.9, 1.3, 10.4, 1.5, 10.9, 1.3, 11.4, 1.6],
    [9.5, 2.5, 9.9, 2.3, 10.3, 2.6, 10.8, 2.3, 11.2, 2.5, 11.6, 2.2],
    [10.0, 1.6, 10.4, 1.8, 10.9, 1.6, 11.3, 1.8, 11.7, 1.5],
    [10.5, 1.0, 10.9, 1.2, 11.3, 1.0, 11.7, 1.2, 12.0, 1.0],
    [10.8, 2.0, 11.2, 2.2, 11.5, 2.0, 11.8, 1.8],
    [5.8, 2.7, 6.2, 2.5, 6.6, 2.3, 7.0, 2.1],
    [8.2, 2.7, 8.6, 2.5, 9.0, 2.2, 9.5, 2.0],
    [3.0, 1.0, 3.3, 1.0, 3.7, 1.0, 4.1, 1.2, 4.6, 1.3, 5.0, 1.0],
    [7.0, 1.8, 7.5, 2.0, 8.0, 1.7, 8.5, 1.9, 9.0, 1.7],
    [9.2, 1.0, 9.7, 1.3, 10.2, 1.0, 10.7, 1.3, 11.2, 1.0],
    [3.0, 1.9, 3.3, 2.1, 3.6, 1.8, 4.0, 2.1, 4.4, 1.8, 4.8, 2.1],
    [3.3, 1.4, 3.7, 1.2, 4.1, 1.5, 4.5, 1.2, 4.9, 1.5, 5.3, 1.3],
    [4.6, 2.2, 5.0, 2.0, 5.4, 2.2, 5.8, 1.9, 6.2, 2.2, 6.6, 1.9],
    [5.3, 1.7, 5.7, 1.4, 6.1, 1.7, 6.5, 1.4, 6.9, 1.6, 7.3, 1.3],
    [6.2, 1.9, 6.6, 1.6, 7.0, 1.9, 7.4, 1.7, 7.8, 2.0, 8.2, 1.8],
    [7.3, 1.1, 7.7, 1.3, 8.1, 1.1, 8.5, 1.4, 8.9, 1.1, 9.3, 1.4],
    [7.8, 2.1, 8.2, 2.3, 8.6, 2.0, 9.0, 2.3, 9.4, 2.0, 9.8, 2.3],
    [8.7, 1.7, 9.1, 1.9, 9.5, 1.6, 9.9, 1.9, 10.3, 1.6, 10.7, 1.9],
    [9.6, 1.2, 10.0, 1.4, 10.4, 1.2, 10.8, 1.5, 11.2, 1.2, 11.6, 1.4],
    [10.2, 2.3, 10.6, 2.1, 11.0, 2.3, 11.4, 2.0, 11.8, 2.2],
    [11.0, 1.5, 11.3, 1.7, 11.6, 1.5, 11.9, 1.4],
    [4.2, 2.4, 4.6, 2.6, 5.0, 2.4, 5.4, 2.6, 5.8, 2.4],
    [6.4, 2.5, 6.8, 2.3, 7.2, 2.6, 7.6, 2.4, 8.0, 2.2],
    [9.1, 2.5, 9.5, 2.7, 9.9, 2.4, 10.3, 2.7, 10.7, 2.5],
    [3.8, 1.7, 4.2, 1.5, 4.6, 1.8, 5.0, 1.6, 5.4, 1.8],
    [5.7, 1.2, 6.1, 1.5, 6.5, 1.2, 6.9, 1.4, 7.3, 1.2],
]

# fitted (blue) curves
fit_age = [3, 4, 5, 6, 7, 8, 9, 10, 11, 12]
fit_I = [4.37, 4.42, 4.45, 4.46, 4.47, 4.47, 4.47, 4.47, 4.47, 4.47]
fit_II = [3.62, 3.79, 3.89, 3.97, 4.03, 4.06, 4.09, 4.10, 4.11, 4.12]
fit_III = [3.01, 3.12, 3.23, 3.34, 3.45, 3.56, 3.66, 3.77, 3.88, 3.99]
fit_IV = [2.61, 2.65, 2.69, 2.73, 2.77, 2.81, 2.84, 2.88, 2.92, 2.96]
fit_V = [1.68, 1.67, 1.66, 1.66, 1.65, 1.64, 1.63, 1.63, 1.62, 1.61]

x_ticks = [3, 4, 5, 6, 7, 8, 9, 10, 11, 12]
y_ticks = [1, 2, 3, 4, 5]

W, H = 758, 877
# panel rectangles in pixels: left, top, width, height
panels = [(38.5, 89.4, 320, 146), (439.5, 89.4, 321, 146),
          (38.5, 356.3, 320, 147), (439.5, 356.3, 321, 147),
          (38.5, 624.5, 320, 145)]
title_pos = [(39, 74), (442, 74), (39, 340), (441, 340), (39, 607)]

all_data = [level_I, level_II, level_III, level_IV, level_V]
all_fits = [fit_I, fit_II, fit_III, fit_IV, fit_V]

fig = plt.figure(figsize=(W / 100, H / 100), dpi=100)

for i in range(5):
    l, t, w, h = panels[i]
    ax = fig.add_axes([l / W, 1 - (t + h) / H, w / W, h / H])
    ax.set_facecolor('#EBEBEB')
    for s in all_data[i]:
        p = np.array(s).reshape(-1, 2)
        ax.plot(p[:, 0], p[:, 1], '-o', color='#B3B3B3', lw=1.45, ms=8.6,
                mec='none', zorder=2)
    ax.plot(fit_age, all_fits[i], color='#0000FF', lw=1.7, zorder=3)
    ax.set_xlim(2.55, 12.45)
    ax.set_ylim(0.8, 5.2)
    ax.set_xticks(x_ticks)
    ax.set_yticks(y_ticks)
    ax.set_xticks(np.arange(3.5, 12.5, 1), minor=True)
    ax.set_yticks([1.5, 2.5, 3.5, 4.5], minor=True)
    ax.grid(which='major', color='white', lw=1.4, zorder=1)
    ax.grid(which='minor', color='white', lw=0.7, zorder=1)
    ax.set_axisbelow(True)
    for sp in ax.spines.values():
        sp.set_visible(False)
    ax.tick_params(which='major', length=4, width=1.1, color='#333333',
                   labelcolor='#4D4D4D', labelsize=14, pad=2)
    ax.tick_params(which='minor', length=0)
    tx, ty = title_pos[i]
    fig.text(tx / W, 1 - ty / H, titles[i], fontsize=22, ha='left',
             va='baseline', color='black')

fig.text(354 / W, 1 - 28 / H, "Years of Age", fontsize=19, ha='center',
         va='baseline')
fig.text(372 / W, 1 - 867 / H, "Years of Age", fontsize=20, ha='center',
         va='baseline')

fig.savefig('out.png', dpi=100)
